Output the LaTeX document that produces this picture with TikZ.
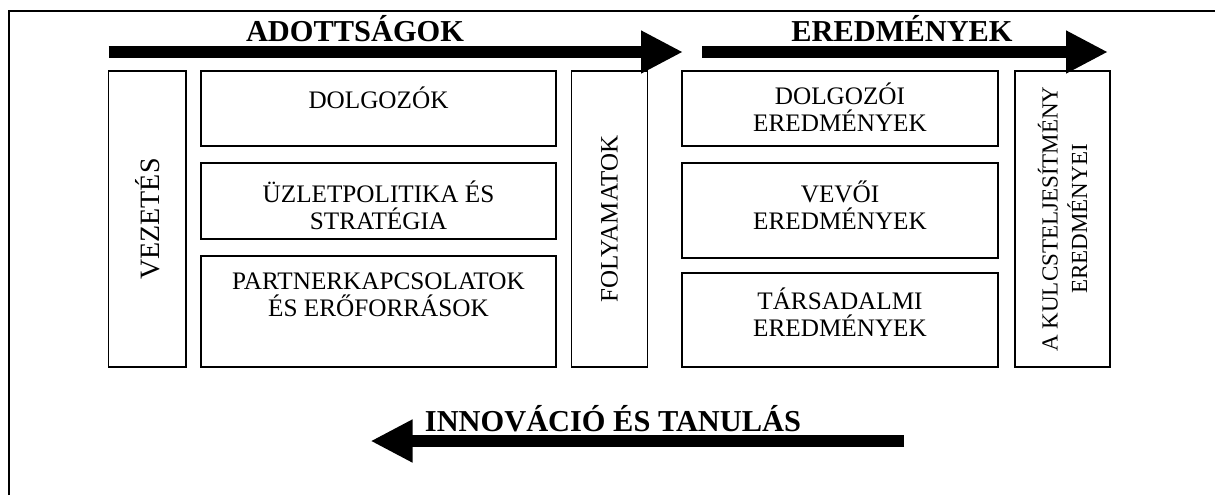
\documentclass[tikz,border=0pt]{standalone}
\usepackage{fontspec}
\setmainfont{Liberation Serif}
\usetikzlibrary{arrows.meta}

\tikzset{
  box/.style={draw, line width=0.8pt, inner sep=0pt},
  boxtext/.style={align=center, inner sep=0pt, font=\fontsize{12.6}{13.5}\selectfont},
  sidetext/.style={align=center, inner sep=0pt, rotate=90, font=\fontsize{13}{15}\selectfont},
  heading/.style={anchor=base, inner sep=0pt, font=\bfseries\fontsize{15.2}{17}\selectfont},
  bigarrow/.style={line width=6pt, -{Triangle[length=21pt,width=20pt]}}
}

\begin{document}
\begin{tikzpicture}[x=0.5pt, y=-0.5pt]
            \useasboundingbox (0,0) rectangle (1215,495);

            % Frame
            \draw[line width=1pt] (9,495) -- (9,11) -- (1215,11);

            % Define arrow ends
            \coordinate (adS) at (108.5,52);
            \coordinate (adE) at (683,52);
            \coordinate (erS) at (702,52);
            \coordinate (erE) at (1108,52);
            \coordinate (inS) at (904,441);
            \coordinate (inE) at (370.5,441);

            % Draw the thick arrows
            \draw[bigarrow] (adS) -- (adE);
            \draw[bigarrow] (erS) -- (erE);
            \draw[bigarrow] (inS) -- (inE);

            % Headings
            \node[heading] (adott) at (355,41) {ADOTTSÁGOK};
            \node[heading] (ered) at (902,41) {EREDMÉNYEK};
            \node[heading] (innov) at (613,431) {INNOVÁCIÓ ÉS TANULÁS};

            % Boxes
            \node[box, minimum width=38.75pt, minimum height=148pt] (vez) at (147.25,219) {};
            \node[box, minimum width=177.5pt, minimum height=37.5pt] (dolg) at (378.5,108.5) {};
            \node[box, minimum width=177.5pt, minimum height=38pt] (uzlet) at (378.5,201) {};
            \node[box, minimum width=177.5pt, minimum height=55.5pt] (partner) at (378.5,311.5) {};
            \node[box, minimum width=38pt, minimum height=148pt] (foly) at (609.5,219) {};
            \node[box, minimum width=158pt, minimum height=37.5pt] (dolgi) at (840,108.5) {};
            \node[box, minimum width=158pt, minimum height=47.5pt] (vevoi) at (840,210.5) {};
            \node[box, minimum width=158pt, minimum height=47pt] (tars) at (840,320) {};
            \node[box, minimum width=47.5pt, minimum height=148pt] (kulcs) at (1062.5,219) {};

            % Box labels
            \node[sidetext, font=\fontsize{14}{15}\selectfont] (vezT) at (vez.center) {VEZETÉS};
            \node[sidetext, font=\fontsize{12.5}{15}\selectfont] (folyT) at (foly.center) {FOLYAMATOK};
            \node[sidetext, font=\fontsize{11.5}{14.75}\selectfont] (kulcsT) at (kulcs.center) {A KULCSTELJESÍTMÉNY\\EREDMÉNYEI};
            \node[boxtext] (dolgT) at ([yshift=5.4pt]dolg.center) {DOLGOZÓK};
            \node[boxtext] (uzletT) at ([yshift=-2.25pt]uzlet.center) {ÜZLETPOLITIKA ÉS\\STRATÉGIA};
            \node[boxtext] (partnerT) at ([yshift=8.15pt]partner.center) {PARTNERKAPCSOLATOK\\ÉS ERŐFORRÁSOK};
            \node[boxtext] (dolgiT) at ([yshift=0.65pt]dolgi.center) {DOLGOZÓI\\EREDMÉNYEK};
            \node[boxtext] (vevoiT) at ([yshift=2.65pt]vevoi.center) {VEVŐI\\EREDMÉNYEK};
            \node[boxtext] (tarsT) at ([yshift=3.9pt]tars.center) {TÁRSADALMI\\EREDMÉNYEK};
        \end{tikzpicture}
\end{document}
